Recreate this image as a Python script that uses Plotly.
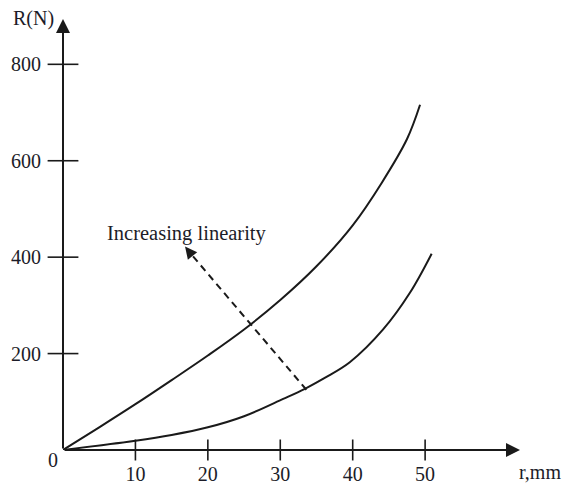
import plotly.graph_objects as go

# ---- data ----
upper_r = [0, 5, 10, 15, 20, 25, 30, 35, 40, 44, 47.5, 49.3]
upper_R = [0, 47, 95, 145, 196, 250, 311, 381, 466, 554, 645, 716]

lower_r = [0, 10, 15, 20, 25, 30.4, 33.4, 36.2, 39.6, 44.2, 47.9, 50.9]
lower_R = [0, 19, 31, 47, 70, 106, 127, 150, 182, 250, 326, 407]

x_ticks = [10, 20, 30, 40, 50]
y_ticks = [200, 400, 600, 800]

arrow_r = [33.6, 17.6]      # dashed arrow: tail on lower curve -> head
arrow_R = [125, 408]
arrow_tip = (16.85, 422)

label_text = "Increasing linearity"
label_pos = (5.8, 449)

x_max = 63.1
y_max = 894

FONT = "Liberation Serif, Times New Roman, serif"
INK = "#1a1a1a"
TXT = "#1c1c28"

fig = go.Figure()

# curves
fig.add_trace(go.Scatter(x=upper_r, y=upper_R, mode="lines",
                         line=dict(color=INK, width=2, shape="spline", smoothing=1.0),
                         showlegend=False, hoverinfo="skip"))
fig.add_trace(go.Scatter(x=lower_r, y=lower_R, mode="lines",
                         line=dict(color=INK, width=2, shape="spline", smoothing=1.0),
                         showlegend=False, hoverinfo="skip"))

# dashed arrow shaft
fig.add_trace(go.Scatter(x=arrow_r, y=arrow_R, mode="lines",
                         line=dict(color=INK, width=2, dash="7px,5px"),
                         showlegend=False, hoverinfo="skip"))

# tick marks crossing the axes
fig.add_trace(go.Scatter(x=x_ticks, y=[0] * len(x_ticks), mode="markers",
                         marker=dict(symbol="line-ns", size=15,
                                     line=dict(color=INK, width=1.6)),
                         cliponaxis=False, showlegend=False, hoverinfo="skip"))
fig.add_trace(go.Scatter(x=[0] * len(y_ticks), y=y_ticks, mode="markers",
                         marker=dict(symbol="line-ew", size=22,
                                     line=dict(color=INK, width=1.6)),
                         cliponaxis=False, showlegend=False, hoverinfo="skip"))

annotations = [
    # x axis with arrow
    dict(x=x_max, y=0, ax=0, ay=0, xref="x", yref="y", axref="x", ayref="y",
         text="", showarrow=True, arrowhead=2, arrowsize=1.4, arrowwidth=2,
         arrowcolor=INK, standoff=0),
    # y axis with arrow
    dict(x=0, y=y_max, ax=0, ay=0, xref="x", yref="y", axref="x", ayref="y",
         text="", showarrow=True, arrowhead=2, arrowsize=1.4, arrowwidth=2,
         arrowcolor=INK, standoff=0),
    # dashed arrow head
    dict(x=arrow_tip[0], y=arrow_tip[1], ax=arrow_r[1], ay=arrow_R[1],
         xref="x", yref="y", axref="x", ayref="y",
         text="", showarrow=True, arrowhead=2, arrowsize=1.2, arrowwidth=2,
         arrowcolor=INK, standoff=0),
    dict(x=label_pos[0], y=label_pos[1], xref="x", yref="y", text=label_text,
         showarrow=False, xanchor="left", yanchor="middle",
         font=dict(family=FONT, size=20.5, color=TXT)),
    dict(x=0, y=0, xref="x", yref="y", text="0", showarrow=False,
         xshift=-10, yshift=-10, font=dict(family=FONT, size=20, color=TXT)),
    dict(x=-0.0656, y=1.002, xref="paper", yref="paper", text="R(N)",
         showarrow=False, xanchor="center", yanchor="middle",
         font=dict(family=FONT, size=20, color=TXT)),
    dict(x=1.0438, y=-0.052, xref="paper", yref="paper", text="r,mm",
         showarrow=False, xanchor="center", yanchor="middle",
         font=dict(family=FONT, size=20, color=TXT)),
]

fig.update_layout(
    width=565, height=484,
    margin=dict(l=63, r=45, t=19, b=34, autoexpand=False),
    paper_bgcolor="white", plot_bgcolor="white",
    font=dict(family=FONT, size=20, color=TXT),
    annotations=annotations,
    hovermode=False,
    xaxis=dict(range=[0, x_max], showgrid=False, zeroline=False, showline=False,
               automargin=False, fixedrange=True,
               tickmode="array", tickvals=x_ticks, ticktext=[str(v) for v in x_ticks],
               ticks="outside", ticklen=6, tickcolor="rgba(0,0,0,0)",
               tickfont=dict(family=FONT, size=20, color=TXT)),
    yaxis=dict(range=[0, y_max], showgrid=False, zeroline=False, showline=False,
               automargin=False, fixedrange=True,
               tickmode="array", tickvals=y_ticks, ticktext=[str(v) for v in y_ticks],
               ticks="outside", ticklen=17, tickcolor="rgba(0,0,0,0)",
               tickfont=dict(family=FONT, size=20, color=TXT)),
)

fig.write_html("out.html", config={"displayModeBar": False},
               post_script="document.body.style.margin='0';document.body.style.overflow='hidden';")
